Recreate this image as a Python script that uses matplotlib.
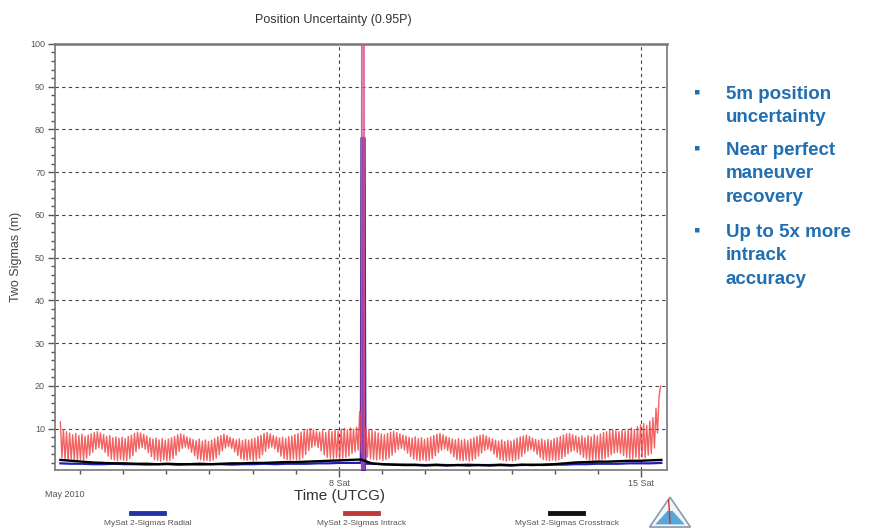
import numpy as np
import matplotlib.pyplot as plt
from matplotlib.lines import Line2D
from matplotlib.patches import Polygon
from matplotlib.ticker import MultipleLocator, FixedLocator

# --- data (days of May 2010) ---
t_start = 1.55
orbits_per_day = 14

# intrack 2-sigma: orbit maxima, one row per day
intrack_peaks = [
    [11.6, 9.8, 9.3, 9.0, 8.6, 8.9, 8.4, 8.7, 8.2, 8.5, 8.8, 9.1, 9.3, 9.0],
    [8.6, 8.2, 8.4, 7.9, 8.1, 7.8, 8.0, 7.7, 8.2, 8.5, 8.9, 9.2, 9.0, 8.7],
    [8.3, 7.9, 7.6, 7.8, 7.4, 7.7, 7.3, 7.6, 7.9, 8.2, 8.6, 8.8, 8.5, 8.1],
    [7.8, 7.5, 7.2, 7.6, 7.1, 7.4, 7.0, 7.3, 7.7, 8.1, 8.4, 8.7, 8.4, 8.0],
    [7.7, 7.4, 7.6, 7.2, 7.5, 7.3, 7.6, 7.8, 8.2, 8.5, 8.9, 9.1, 8.8, 8.4],
    [8.1, 7.8, 8.0, 7.7, 8.1, 8.3, 8.6, 8.9, 9.2, 9.5, 9.8, 10.0, 9.7, 9.4],
    [9.2, 9.5, 9.1, 9.6, 9.3, 9.8, 9.4, 9.9, 10.1, 9.7, 10.2, 9.9, 10.3, 14.0],
    [300.0, 10.2, 9.8, 9.6, 9.3, 9.0, 8.8, 8.6, 8.9, 9.2, 9.4, 9.1, 8.8, 8.5],
    [8.3, 8.0, 7.8, 8.1, 7.7, 7.9, 7.5, 7.8, 8.1, 8.4, 8.7, 8.9, 8.6, 8.2],
    [7.9, 7.6, 7.4, 7.7, 7.3, 7.5, 7.2, 7.6, 7.9, 8.2, 8.5, 8.6, 8.3, 7.9],
    [7.6, 7.3, 7.1, 7.4, 7.0, 7.3, 7.1, 7.4, 7.8, 8.1, 8.3, 8.5, 8.2, 7.8],
    [7.5, 7.3, 7.6, 7.2, 7.5, 7.3, 7.7, 7.9, 8.2, 8.5, 8.8, 8.9, 8.6, 8.3],
    [8.0, 8.3, 7.9, 8.4, 8.1, 8.6, 8.3, 8.8, 9.1, 9.3, 9.6, 9.8, 9.5, 9.3],
    [9.6, 9.4, 9.9, 10.2, 9.8, 10.5, 10.9, 11.2, 10.8, 11.8, 12.6, 14.8, 17.5],
]
# intrack 2-sigma: orbit minima
intrack_troughs = [
    [3.2, 2.8, 2.6, 2.9, 2.7, 2.5, 2.8, 2.6, 3.1, 3.8, 4.5, 5.2, 5.5, 5.2],
    [4.5, 3.6, 2.9, 2.7, 2.5, 2.8, 2.6, 2.5, 3.0, 3.7, 4.6, 5.3, 5.6, 5.2],
    [4.4, 3.5, 2.8, 2.6, 2.4, 2.7, 2.5, 2.6, 3.0, 3.8, 4.7, 5.4, 5.7, 5.3],
    [4.5, 3.7, 2.9, 2.7, 2.5, 2.6, 2.4, 2.6, 3.1, 3.9, 4.8, 5.5, 5.8, 5.4],
    [4.6, 3.7, 3.0, 2.7, 2.6, 2.8, 2.5, 2.7, 3.1, 3.9, 4.7, 5.4, 5.7, 5.3],
    [4.5, 3.6, 3.0, 2.8, 2.7, 2.9, 2.7, 2.8, 3.2, 4.0, 4.9, 5.6, 6.0, 5.6],
    [4.8, 3.9, 3.3, 3.1, 3.0, 3.2, 3.0, 3.1, 3.3, 3.6, 4.2, 4.6, 5.0, 4.4],
    [3.0, 3.4, 3.0, 2.8, 2.7, 2.9, 2.6, 2.8, 3.1, 3.8, 4.5, 5.1, 5.4, 5.0],
    [4.3, 3.5, 2.9, 2.7, 2.5, 2.7, 2.5, 2.6, 3.0, 3.7, 4.4, 5.0, 5.3, 4.9],
    [4.2, 3.4, 2.8, 2.6, 2.5, 2.7, 2.4, 2.6, 3.0, 3.6, 4.3, 4.9, 5.2, 4.8],
    [4.1, 3.3, 2.8, 2.6, 2.4, 2.6, 2.5, 2.6, 2.9, 3.5, 4.2, 4.8, 5.1, 4.7],
    [4.0, 3.3, 2.8, 2.6, 2.5, 2.7, 2.5, 2.7, 3.0, 3.5, 4.1, 4.6, 4.9, 4.5],
    [3.9, 3.3, 2.9, 2.7, 2.6, 2.8, 2.6, 2.8, 3.0, 3.4, 3.9, 4.3, 4.5, 4.2],
    [3.7, 3.3, 3.1, 3.0, 3.3, 3.0, 3.4, 3.2, 3.8, 4.2, 5.5, 9.0, 20.0],
]

# radial / crosstrack, sampled four times a day
radial = [1.9, 1.8, 1.8, 1.7, 1.7, 1.8, 1.7, 1.7, 1.6, 1.7, 1.7, 1.6, 1.7, 1.6,
          1.7, 1.7, 1.6, 1.7, 1.7, 1.8, 1.7, 1.8, 1.8, 1.8, 1.9, 1.9, 2.0, 2.0,
          2.1, 1.8, 1.7, 1.6, 1.6, 1.6, 1.5, 1.6, 1.5, 1.5, 1.6, 1.5, 1.5, 1.6,
          1.5, 1.5, 1.6, 1.5, 1.6, 1.6, 1.7, 1.7, 1.8, 1.8, 1.8, 1.9, 1.9, 1.9, 2.0]
crosstrack = [2.7, 2.5, 2.3, 2.1, 2.0, 1.9, 1.9, 1.8, 1.8, 1.7, 1.8, 1.7, 1.7, 1.8,
              1.7, 1.8, 1.9, 1.9, 2.0, 2.0, 2.1, 2.2, 2.2, 2.3, 2.4, 2.5, 2.6, 2.7,
              2.8, 1.9, 1.7, 1.6, 1.5, 1.5, 1.4, 1.5, 1.4, 1.5, 1.4, 1.5, 1.4, 1.5,
              1.4, 1.6, 1.5, 1.6, 1.7, 1.9, 2.1, 2.2, 2.3, 2.3, 2.4, 2.5, 2.5, 2.6, 2.7]
t_end = 15.46

# maneuver on May 8: covariance blows up, then recovers
maneuver_t = [8.50, 8.52, 8.59, 8.61]
maneuver_radial = [2.0, 78.0, 78.0, 1.8]
maneuver_intrack = [3.0, 300.0, 300.0, 3.0]

# --- build series ---
peaks = np.concatenate([np.array(r) for r in intrack_peaks])
troughs = np.concatenate([np.array(r) for r in intrack_troughs])
intrack = np.empty(peaks.size + troughs.size)
intrack[0::2] = peaks
intrack[1::2] = troughs
t_intrack = t_start + np.arange(intrack.size) / (2 * orbits_per_day)

t_slow = np.linspace(t_start, t_end, len(radial))
t_rad = np.concatenate([t_slow, maneuver_t])
v_rad = np.concatenate([radial, maneuver_radial])
order = np.argsort(t_rad)
t_rad, v_rad = t_rad[order], v_rad[order]

plt.rcParams['font.family'] = ['Liberation Sans', 'DejaVu Sans']
fig = plt.figure(figsize=(8.69, 5.29), dpi=100)
ax = fig.add_axes([0.063, 0.112, 0.705, 0.805])

ax.plot(t_rad, v_rad, color='#1f1fb4', lw=1.6, zorder=3)
ax.fill_between(maneuver_t, 0, maneuver_radial, color='#3a1fa8', lw=0, zorder=3)
ax.plot(t_intrack, intrack, color='#f03a3a', lw=1.0, alpha=0.8, zorder=4)
ax.fill_between(maneuver_t, 0, maneuver_intrack, color='#d060b8', alpha=0.55, lw=0, zorder=4)
ax.plot(t_slow, crosstrack, color='black', lw=1.7, zorder=5)

ax.set_xlim(1.42, 15.6)
ax.set_ylim(0.4, 100)

ax.xaxis.set_major_locator(FixedLocator([8, 15]))
ax.set_xticklabels(['8 Sat', '15 Sat'])
ax.xaxis.set_minor_locator(MultipleLocator(1))
ax.yaxis.set_major_locator(MultipleLocator(10))
ax.yaxis.set_minor_locator(MultipleLocator(2))
ax.set_yticks(np.arange(10, 101, 10))

ax.tick_params(which='major', direction='out', length=5, width=1, color='#555555',
               labelsize=6.5, labelcolor='#555555', pad=2)
ax.tick_params(which='minor', direction='out', length=3, width=1, color='#555555')

ax.grid(True, which='major', color='#444444', linestyle=(0, (3, 3)), lw=0.8)
for s in ax.spines.values():
    s.set_color('#777777')
    s.set_linewidth(1.2)
ax.spines['top'].set_linewidth(1.8)

ax.set_ylabel('Two Sigmas (m)', fontsize=9, color='#444444', labelpad=6)
fig.text(0.391, 0.062, 'Time (UTCG)', ha='center', va='center', fontsize=11, color='#333333')
fig.text(0.052, 0.066, 'May 2010', ha='left', va='center', fontsize=6.5, color='#555555')
fig.text(0.383, 0.962, 'Position Uncertainty (0.95P)', ha='center', va='center',
         fontsize=9, color='#333333')

# legend underneath
legend_items = [('MySat 2-Sigmas Radial', '#2233aa', 0.170),
                ('MySat 2-Sigmas Intrack', '#c03a3a', 0.416),
                ('MySat 2-Sigmas Crosstrack', '#111111', 0.652)]
for label, col, xc in legend_items:
    fig.add_artist(Line2D([xc - 0.019, xc + 0.019], [0.031, 0.031], color=col, lw=3.5,
                          transform=fig.transFigure))
    fig.text(xc, 0.010, label, ha='center', va='center', fontsize=6, color='#555555')

# bullet points
bullets = [(0.822, ['5m position', 'uncertainty']),
           (0.716, ['Near perfect', 'maneuver', 'recovery']),
           (0.561, ['Up to 5x more', 'intrack', 'accuracy'])]
blue = '#1f6fb2'
for y0, lines in bullets:
    fig.text(0.799, y0 + 0.003, '\u25aa', ha='left', va='center', fontsize=13, color=blue)
    for i, line in enumerate(lines):
        fig.text(0.835, y0 - i * 0.0445, line, ha='left', va='center', fontsize=13.5,
                 fontweight='bold', color=blue)

# small logo
lax = fig.add_axes([0.746, 0.0, 0.050, 0.062])
lax.set_xlim(0, 1)
lax.set_ylim(0, 1)
lax.axis('off')
lax.add_patch(Polygon([[0.03, 0.06], [0.97, 0.06], [0.5, 0.97]], closed=True,
                      facecolor='#f2f5f8', edgecolor='#8a9aaa', lw=1.2))
lax.add_patch(Polygon([[0.16, 0.14], [0.84, 0.14], [0.56, 0.55], [0.44, 0.55]], closed=True,
                      facecolor='#5aa6d8', edgecolor='none'))
lax.plot([0.5, 0.47], [0.18, 0.88], color='#d03030', lw=1)

fig.savefig('out.png', dpi=100)
